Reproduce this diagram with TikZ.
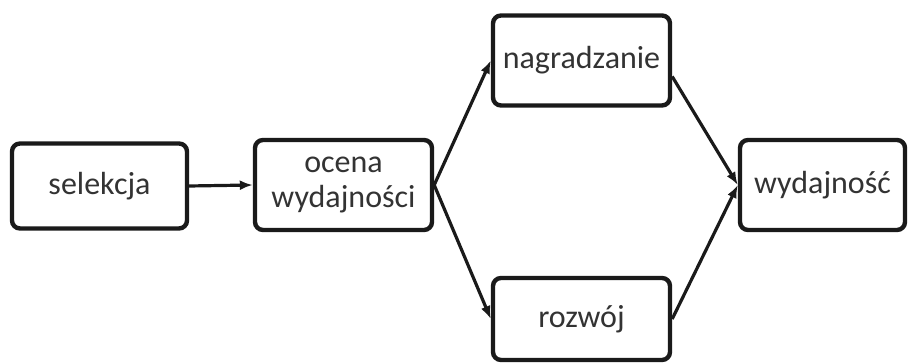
\documentclass[tikz,border=0pt]{standalone}
\usepackage{fontspec}
\setmainfont{Carlito}
\usetikzlibrary{arrows.meta}
\definecolor{cLine}{HTML}{1A1A1A}
\definecolor{cText}{HTML}{333333}
\tikzset{
  blk/.style ={draw=cLine,line width=4.4pt,rounded corners=8pt,fill=white,
               align=center,text=cText,inner sep=2pt,
               font=\fontsize{32}{35}\selectfont},
  sig/.style ={-{Latex[length=13pt,width=10pt]},draw=cLine,line width=3.2pt},
}

\begin{document}
\begin{tikzpicture}[x=1pt,y=1pt]
\useasboundingbox (0,0) rectangle (908,363);

% ===== stages, left to right ==============================================
\node[blk,minimum width=175,minimum height=85] (sel) at (99.5,177)
  {selekcja};
\node[blk,minimum width=177,minimum height=90] (oc)  at (343.5,178)
  {ocena\\ wydajności};
\node[blk,minimum width=177,minimum height=90] (nag) at (581.5,302.5)
  {nagradzanie};
\node[blk,minimum width=177,minimum height=82] (roz) at (581.5,44)
  {rozwój};
\node[blk,minimum width=165,minimum height=90] (wyd) at (822.5,178)
  {wydajność};

% ===== connectors =========================================================
\draw[sig] (sel.east) -- (oc.west);
\draw[sig] (oc.east)  -- (nag.west);
\draw[sig] (oc.east)  -- (roz.west);
\draw[sig] (nag.-10)  -- (wyd.west);
\draw[sig] (roz.east) -- (wyd.west);
\end{tikzpicture}
\end{document}
